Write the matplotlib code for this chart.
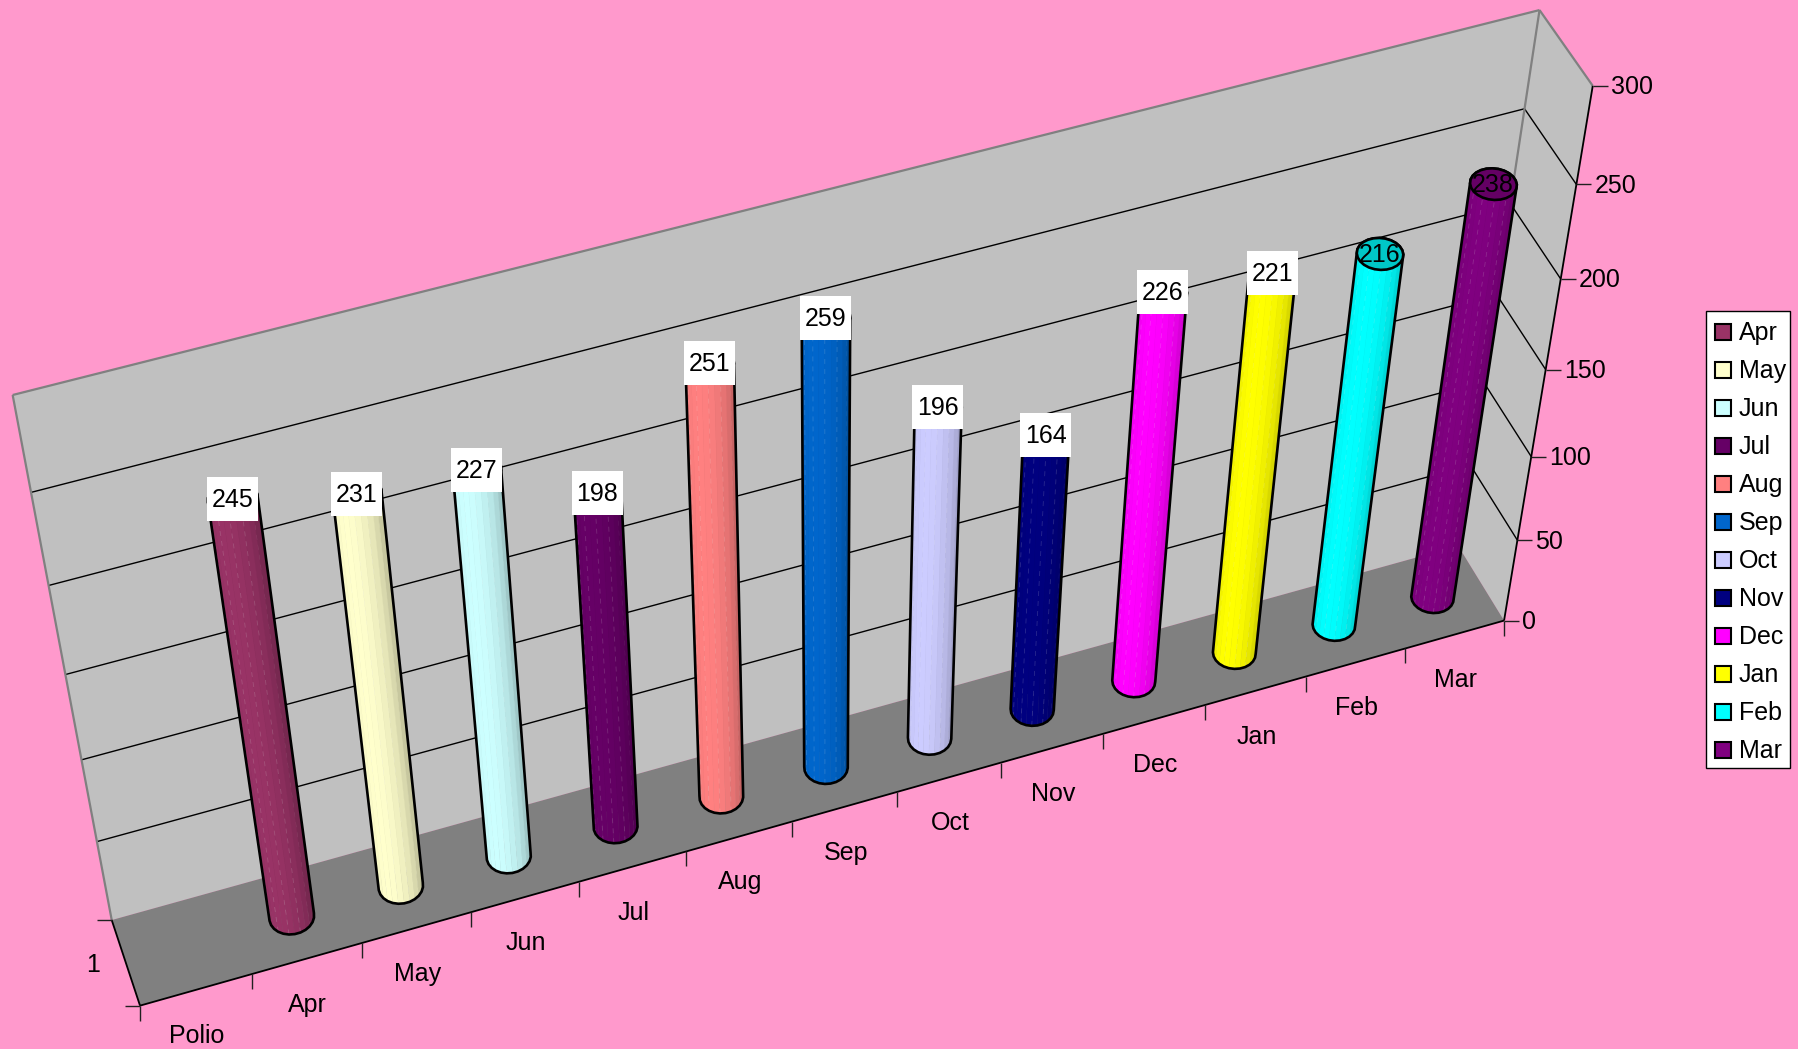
import matplotlib
matplotlib.use("Agg")
import matplotlib.pyplot as plt
from matplotlib.patches import Polygon, Rectangle
import numpy as np

categories = ['Polio', 'Apr', 'May', 'Jun', 'Jul', 'Aug', 'Sep', 'Oct', 'Nov', 'Dec', 'Jan', 'Feb', 'Mar']
months = categories[1:]
values = [245, 231, 227, 198, 251, 259, 196, 164, 226, 221, 216, 238]
colors = ['#993366', '#FFFFCC', '#CCFFFF', '#660066', '#FF8080', '#0066CC',
          '#CCCCFF', '#000080', '#FF00FF', '#FFFF00', '#00FFFF', '#800080']
value_ticks = [0, 50, 100, 150, 200, 250, 300]
VMAX = 300

# frame anchors: (category pos, depth, value) -> pixel, used to fit the perspective
anchors = [
    ((0, 0, 0), (140, 1005.7)),
    ((13, 0, 0), (1504.3, 620)),
    ((0, 1, 0), (111.7, 920)),
    ((13, 1, 0), (1458, 546)),
    ((0, 1, 300), (12.7, 395)),
    ((13, 1, 300), (1539.7, 10)),
    ((13, 0, 300), (1592.3, 85.7)),
    ((13, 0, 250), (1576.7, 184.3)),
    ((13, 0, 200), (1560.7, 279.3)),
    ((13, 0, 50), (1517.3, 540.7)),
]


def fit_camera(pairs):
    rows = []
    for (x, d, v), (px, py) in pairs:
        p = [x, d, v, 1]
        rows.append(p + [0, 0, 0, 0] + [-px * c for c in p])
        rows.append([0, 0, 0, 0] + p + [-py * c for c in p])
    _, _, vt = np.linalg.svd(np.array(rows, dtype=float))
    return vt[-1].reshape(3, 4)


cam = fit_camera(anchors)


def project(x, d, v):
    h = cam @ np.array([x, d, v, 1.0])
    return h[0] / h[2], h[1] / h[2]


def hull(points):
    pts = sorted(set(map(tuple, points)))

    def half(seq):
        out = []
        for p in seq:
            while len(out) > 1 and ((out[-1][0] - out[-2][0]) * (p[1] - out[-2][1])
                                    - (out[-1][1] - out[-2][1]) * (p[0] - out[-2][0])) <= 0:
                out.pop()
            out.append(p)
        return out[:-1]

    return half(pts) + half(pts[::-1])


def shade(color, f):
    rgb = np.array(matplotlib.colors.to_rgb(color))
    return tuple(rgb * f)


plt.rcParams['font.family'] = 'Liberation Sans'
fig = plt.figure(figsize=(17.98, 10.49), dpi=100, facecolor='#FF99CC')
ax = fig.add_axes([0, 0, 1, 1])
ax.set_xlim(0, 1798)
ax.set_ylim(1049, 0)
ax.axis('off')

FS = 18
n_cat = len(categories)

# walls and floor
back = [project(0, 1, 0), project(n_cat, 1, 0), project(n_cat, 1, VMAX), project(0, 1, VMAX)]
side = [project(n_cat, 1, 0), project(n_cat, 0, 0), project(n_cat, 0, VMAX), project(n_cat, 1, VMAX)]
floor = [project(0, 0, 0), project(n_cat, 0, 0), project(n_cat, 1, 0), project(0, 1, 0)]
ax.add_patch(Polygon(back, fc='#C0C0C0', ec='none'))
ax.add_patch(Polygon(side, fc='#C0C0C0', ec='none'))
ax.add_patch(Polygon(floor, fc='#808080', ec='none'))


def seg(a, b, **kw):
    ax.plot([a[0], b[0]], [a[1], b[1]], solid_capstyle='butt', **kw)


# gridlines
for v in value_ticks[1:-1]:
    a, b, c = project(0, 1, v), project(n_cat, 1, v), project(n_cat, 0, v)
    seg(a, b, color='black', lw=1)
    seg(b, c, color='black', lw=1)

# wall outlines
for a, b in [(project(0, 1, 0), project(0, 1, VMAX)),
             (project(0, 1, VMAX), project(n_cat, 1, VMAX)),
             (project(n_cat, 1, VMAX), project(n_cat, 0, VMAX)),
             (project(n_cat, 1, VMAX), project(n_cat, 1, 0))]:
    seg(a, b, color='#808080', lw=1.6)

# axis edges and ticks
seg(project(0, 0, 0), project(n_cat, 0, 0), color='black', lw=1.3)
seg(project(0, 0, 0), project(0, 1, 0), color='black', lw=1.3)
seg(project(n_cat, 0, 0), project(n_cat, 0, VMAX), color='black', lw=1.3)

for i, name in enumerate(categories):
    p = project(i, 0, 0)
    seg(p, (p[0], p[1] + 15), color='#202020', lw=1)
    m = project(i + 0.5, 0, 0)
    ax.text(m[0] + 1, m[1] + 46, name, ha='center', va='center', fontsize=FS, color='black')
p = project(n_cat, 0, 0)
seg(p, (p[0], p[1] + 15), color='#202020', lw=1)

for v in value_ticks:
    p = project(n_cat, 0, v)
    seg(p, (p[0] + 15, p[1]), color='#202020', lw=1)
    ax.text(p[0] + 18, p[1] + 1.5, str(v), ha='left', va='center', fontsize=FS, color='black')

for d in [0, 1]:
    p = project(0, d, 0)
    seg((p[0] - 15, p[1]), p, color='#202020', lw=1)
m = project(0, 0.5, 0)
ax.text(m[0] - 33, m[1] + 2, '1', ha='center', va='center', fontsize=FS, color='black')

# cylinders
R_X, R_D = 0.197, 0.195
N = 24
for i, (val, col) in enumerate(zip(values, colors)):
    xc = i + 1.5
    t = np.linspace(0, 2 * np.pi, N, endpoint=False) + np.pi / N
    xs = xc + R_X * np.cos(t)
    ds = 0.49 + R_D * np.sin(t)
    base = [project(x, d, 0) for x, d in zip(xs, ds)]
    top = [project(x, d, val) for x, d in zip(xs, ds)]
    # far facets first so the near ones cover them
    order = np.argsort(-np.sin(t))
    for k in order:
        k2 = (k + 1) % N
        tm = t[k] + np.pi / N
        # light comes from the front left
        f = 0.78 + 0.22 * max(np.cos(tm - 3.9), 0) ** 0.8
        quad = [base[k], base[k2], top[k2], top[k]]
        c = shade(col, f)
        ax.add_patch(Polygon(quad, fc=c, ec=c, lw=0.3, zorder=3))
        if np.sin(t[k]) < 0 and k % 2 == 0:
            ax.plot([base[k][0], top[k][0]], [base[k][1], top[k][1]], color='white',
                    lw=0.6, alpha=0.16, ls=(0, (6, 6)), zorder=3)
    ax.add_patch(Polygon(hull(base + top), fc='none', ec='black', lw=1.9, joinstyle='round', zorder=3))
    ax.add_patch(Polygon(top, fc=shade(col, 0.78), ec='black', lw=1.9, zorder=3))

    cx, cy = project(xc, 0.5, val)
    # the two last labels sit without a box in the original
    if i < 10:
        ax.add_patch(Rectangle((cx - 25.5, cy - 21), 51, 44, fc='white', ec='none', zorder=5))
    ax.text(cx, cy + 2, str(val), ha='center', va='center', fontsize=FS, color='black', zorder=6)

# legend box
ax.add_patch(Rectangle((1706, 311), 84, 457, fc='white', ec='black', lw=1, zorder=4))
for i, (name, col) in enumerate(zip(months, colors)):
    y = 332 + i * 38
    ax.add_patch(Rectangle((1714.5, y - 8), 16, 16, fc=col, ec='black', lw=1.5, zorder=5))
    ax.text(1739, y + 1, name, ha='left', va='center', fontsize=FS, color='black', zorder=5)

fig.savefig('out.png', dpi=100, facecolor=fig.get_facecolor())
